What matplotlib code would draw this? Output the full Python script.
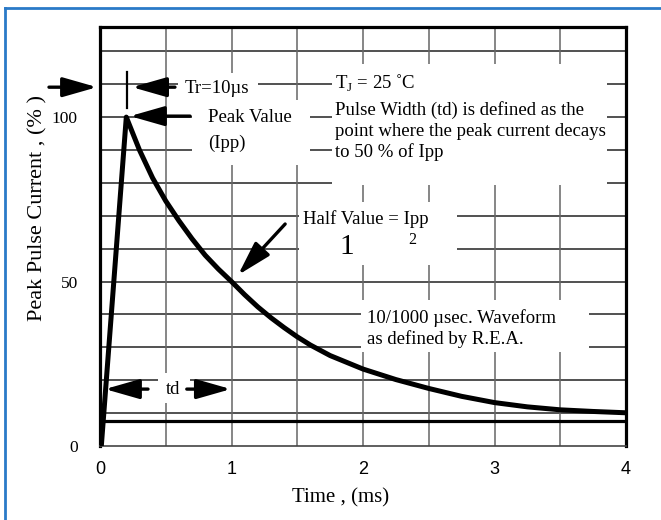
import numpy as np
import matplotlib
matplotlib.use('Agg')
import matplotlib.pyplot as plt
from matplotlib.patches import Rectangle
from matplotlib.lines import Line2D

# waveform (time in ms, current in % of Ipp)
time_ms = [0.01, 0.20, 0.30, 0.40, 0.50, 0.60, 0.70, 0.80, 0.90, 1.00,
           1.10, 1.20, 1.30, 1.40, 1.50, 1.60, 1.75, 2.00, 2.25, 2.50,
           2.75, 3.00, 3.25, 3.50, 3.75, 4.00]
current_pct = [0, 100, 90, 81.5, 74.5, 68.5, 63, 58, 53.8, 50,
               46, 42.3, 39, 36, 33.2, 30.7, 27.5, 23.4, 20.2, 17.5,
               15.1, 13.2, 11.9, 11.0, 10.5, 10.1]

x_ticks = [0, 1, 2, 3, 4]
y_ticks = [0, 50, 100]
base_line = 7.5   # the heavy horizontal line near the bottom

serif = 'Liberation Serif'
sans = 'Liberation Sans'
fs = 13.5

fig = plt.figure(figsize=(6.61, 5.20), dpi=100)
ax = fig.add_axes([100 / 661, 74 / 520, 526 / 661, 419 / 520])
ax.set_xlim(0, 4)
ax.set_ylim(0, 127.4)

# grid
for v in np.arange(10, 121, 10):
    ax.axhline(v, color='#222222', lw=1.1, zorder=1)
for t in np.arange(0.5, 4, 0.5):
    ax.axvline(t, color='#666666', lw=1.1, zorder=1)
ax.axhline(base_line, color='black', lw=2.3, zorder=3)

# white patches behind the notes
for (x0, y0, x1, y1) in [(0.594, 105.2, 1.202, 113.4),
                         (0.70, 85.4, 1.598, 105.2),
                         (1.766, 79.3, 3.858, 116.1),
                         (1.51, 55.0, 2.717, 74.2),
                         (1.986, 28.6, 3.72, 44.4),
                         (0.44, 13.1, 0.685, 22.2)]:
    ax.add_patch(Rectangle((x0, y0), x1 - x0, y1 - y0, facecolor='white',
                           edgecolor='none', zorder=2))

ax.plot(time_ms, current_pct, color='black', lw=3.6, zorder=3,
        solid_joinstyle='round', solid_capstyle='round')


def arrow(tail, tip):
    ax.annotate('', xy=tip, xytext=tail, annotation_clip=False,
                arrowprops=dict(arrowstyle='-|>,head_length=1.4,head_width=0.4',
                                mutation_scale=15, lw=2.4, color='black',
                                shrinkA=0, shrinkB=0), zorder=4)


# Tr markers
arrow((-0.388, 109.1), (-0.023, 109.1))
arrow((0.57, 109.1), (0.244, 109.1))
ax.plot([0.207, 0.207], [102.7, 113.7], color='black', lw=1.6, zorder=4)
ax.text(0.647, 108.6, 'Tr=10µs', family=serif, fontsize=fs, va='center', zorder=4)

# peak
arrow((0.685, 100.3), (0.228, 100.3))
ax.text(0.822, 100.0, 'Peak Value', family=serif, fontsize=fs, va='center', zorder=4)
ax.text(0.822, 92.0, '(Ipp)', family=serif, fontsize=fs, va='center', zorder=4)

# pulse width note
note = ['T$_\\mathregular{J}$ = 25 ˚C',
        'Pulse Width (td) is defined as the',
        'point where the peak current decays',
        'to 50 % of Ipp']
for line, v in zip(note, [110.2, 102.1, 95.7, 89.4]):
    ax.text(1.788, v, line, family=serif, fontsize=fs, va='center', zorder=4)

# half value
arrow((1.408, 67.5), (1.05, 52.0))
ax.text(1.545, 69.0, 'Half Value = Ipp', family=serif, fontsize=fs, va='center', zorder=4)
ax.text(1.88, 60.6, '1', family=serif, fontsize=21, va='center', ha='center', zorder=4)
ax.text(2.375, 62.6, '2', family=serif, fontsize=11.5, va='center', ha='center', zorder=4)

# waveform note
ax.text(2.032, 38.9, '10/1000 µsec. Waveform', family=serif, fontsize=fs,
        va='center', zorder=4)
ax.text(2.032, 32.5, 'as defined by R.E.A.', family=serif, fontsize=fs,
        va='center', zorder=4)

# td
arrow((0.365, 17.3), (0.038, 17.3))
arrow((0.66, 17.3), (0.995, 17.3))
ax.text(0.556, 17.3, 'td', family=serif, fontsize=fs, va='center', ha='center', zorder=4)

# axes styling
ax.set_xticks(x_ticks)
ax.set_yticks(y_ticks)
ax.set_xticklabels([str(t) for t in x_ticks], family=sans, fontsize=13)
ax.set_yticklabels([str(t) for t in y_ticks], family=serif, fontsize=12.5)
ax.tick_params(axis='x', length=0, pad=11)
ax.tick_params(axis='y', length=0, pad=16)
for side in ['left', 'top', 'right']:
    ax.spines[side].set_linewidth(2.3)
ax.spines['bottom'].set_linewidth(1.2)
ax.spines['bottom'].set_color('#444444')

fig.text(341 / 661, 1 - 498 / 520, 'Time , (ms)', family=serif, fontsize=15,
         ha='center', va='center')
fig.text(38 / 661, 1 - 208 / 520, 'Peak Pulse Current , (% )', family=serif,
         fontsize=16, ha='center', va='center', rotation=90)

# blue frame on the left and top
fig.add_artist(Line2D([5 / 661, 5 / 661], [0, 1 - 8 / 520], color='#2a7ac8', lw=2))
fig.add_artist(Line2D([5 / 661, 1], [1 - 8 / 520, 1 - 8 / 520], color='#2a7ac8', lw=2))

fig.savefig('out.png', dpi=100)
